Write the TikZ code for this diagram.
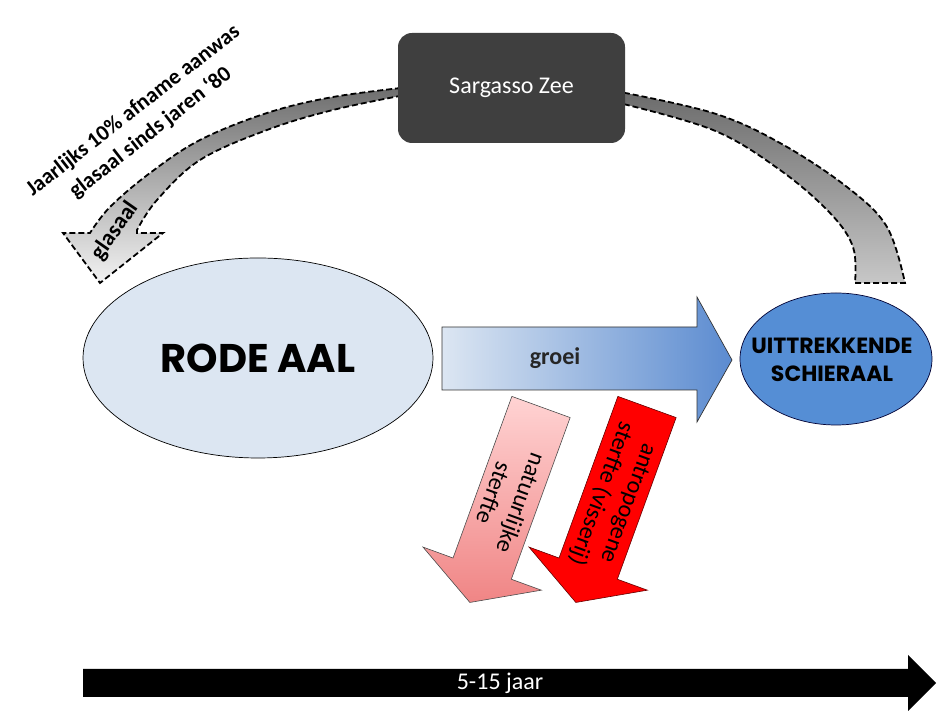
\documentclass[tikz,border=0pt]{standalone}
\usepackage{fontspec}
\setmainfont{Carlito}
\newfontfamily\comicf{Poppins}
\usetikzlibrary{shapes.geometric}
\definecolor{eelA}{HTML}{DCE6F2}
\definecolor{eelB}{HTML}{558ED5}
\definecolor{growR}{HTML}{5B8BD0}
\definecolor{boxC}{HTML}{3F3F3F}
\definecolor{pinkT}{HTML}{FFD3D3}
\definecolor{pinkB}{HTML}{F08585}
\tikzset{
  flowarrow/.style={draw=black, line width=1.8pt, dash pattern=on 6pt off 3pt},
  mortarrow/.style={draw=black!70, line width=0.6pt},
  mortlabel/.style={align=center, font=\fontsize{24}{29}\selectfont, rotate=-110},
}
\begin{document}
\begin{tikzpicture}[x=1pt,y=1pt]
\useasboundingbox (0,0) rectangle (943,714);

% left curved arrow (glasaal)
\path[flowarrow, top color=black!57, bottom color=black!5]
  plot[smooth, tension=0.6] coordinates {(410,627) (333,617) (267,601) (200,574) (150,541) (110,507) (90,481)}
  -- (63,481) -- (100,431) -- (163,481) -- (137,481)
  -- plot[smooth, tension=0.6] coordinates {(137,484) (157,514) (200,554) (267,584) (333,604) (410,620)}
  -- cycle;

% right curved arrow
\path[flowarrow, top color=black!58, bottom color=black!22]
  plot[smooth, tension=0.6] coordinates {(615,623) (713,601) (780,571) (847,527) (887,487) (905,431)}
  -- (855,431)
  -- plot[smooth, tension=0.6] coordinates {(855,431) (853,467) (830,501) (780,544) (713,584) (615,612)}
  -- cycle;

% Sargasso box
\node[draw=none, fill=boxC, rounded corners=14pt, minimum width=227pt, minimum height=110pt,
      text=white, font=\fontsize{24}{28}\selectfont] (sargasso) at (511.5,626) {Sargasso Zee};

% annotation texts
\node[rotate=38, align=center, font=\bfseries\fontsize{22}{28}\selectfont] (note) at (142,592)
  {Jaarlijks 10\% afname aanwas\\glasaal sinds jaren ‘80};
\node[rotate=55, font=\bfseries\fontsize{23}{27}\selectfont] (glas) at (115,483) {glasaal};

% ellipses
\node[ellipse, draw=black, line width=0.7pt, fill=eelA, minimum width=350pt, minimum height=200pt,
      inner sep=0pt] (rode) at (258,356) {};
\node[font=\comicf\bfseries\fontsize{40}{44}\selectfont] (rodetxt) at (rode.center) {RODE AAL};
\node[ellipse, draw=black!80!blue, line width=0.7pt, fill=eelB, minimum width=192pt, minimum height=132pt,
      inner sep=0pt] (schier) at (836,355) {};
\node[align=center, font=\comicf\bfseries\fontsize{22}{28}\selectfont] (schiertxt) at (832,354)
  {UITTREKKENDE\\SCHIERAAL};

% groei arrow
\path[draw=black!80, line width=0.7pt, left color=eelA, right color=growR]
  (442,387) -- (697,387) -- (697,417) -- (732,354) -- (697,292) -- (697,324) -- (442,324) -- cycle;
\node[font=\bfseries\fontsize{24}{28}\selectfont, text=black!85] (groei) at (555,356) {groei};

% natuurlijke sterfte
\begin{scope}[shift={(541,307)}, rotate=-20]
  \path[mortarrow, top color=pinkT, bottom color=pinkB]
    (-31,0) -- (31,0) -- (31,-172) -- (63,-172) -- (0,-208) -- (-63,-172) -- (-31,-172) -- cycle;
  \node[mortlabel] (nat) at (0,-97) {natuurlijke\\sterfte};
\end{scope}

% antropogene sterfte
\begin{scope}[shift={(647,307)}, rotate=-20]
  \path[mortarrow, draw=black!60!red, fill=red]
    (-31,0) -- (31,0) -- (31,-172) -- (63,-172) -- (0,-208) -- (-63,-172) -- (-31,-172) -- cycle;
  \node[mortlabel] (antro) at (0,-97) {antropogene\\sterfte (visserij)};
\end{scope}

% time arrow
\path[fill=black] (83,45) -- (908,45) -- (908,59) -- (936,31) -- (908,3) -- (908,17) -- (83,17) -- cycle;
\node[text=white, font=\fontsize{24}{28}\selectfont] (jaar) at (500,31) {5-15 jaar};
\end{tikzpicture}
\end{document}
